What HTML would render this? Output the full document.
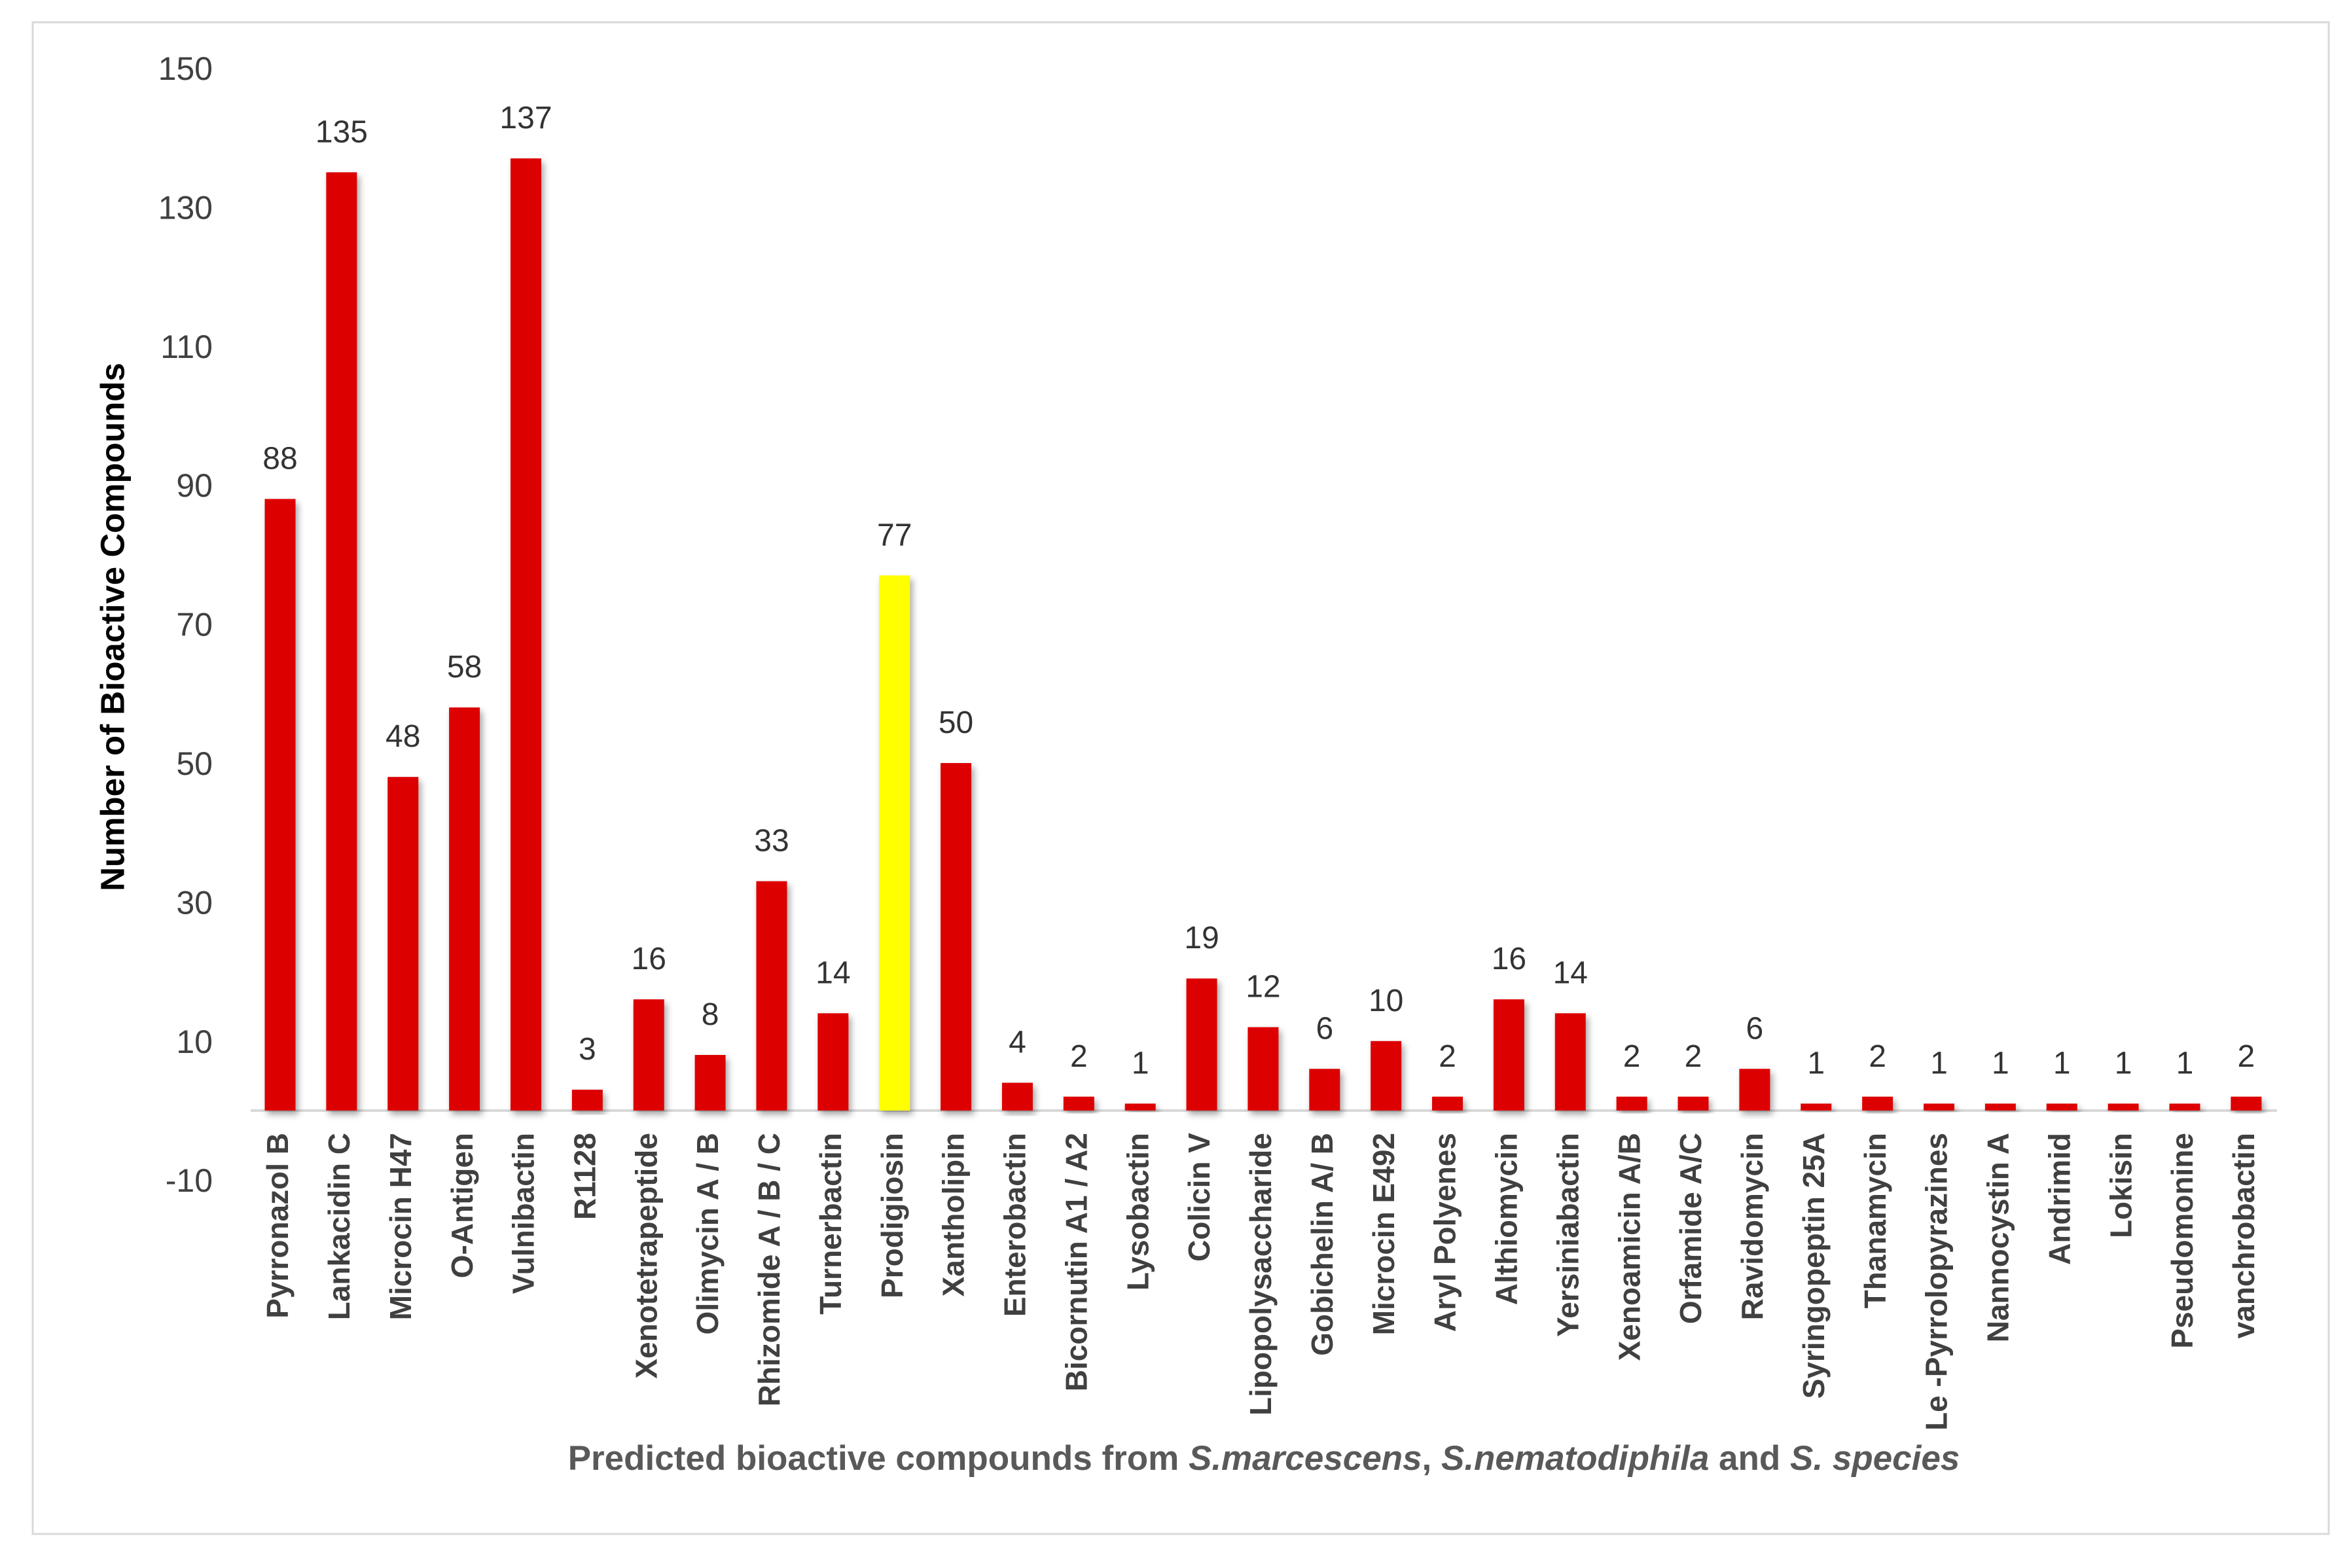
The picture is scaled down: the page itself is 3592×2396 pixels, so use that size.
<!DOCTYPE html>
<html><head><meta charset="utf-8"><style>
html,body{margin:0;padding:0;background:#fff;}
svg{display:block;}
text{font-family:"Liberation Sans",sans-serif;}
</style></head><body>
<svg id="chart" width="3592" height="2396" viewBox="0 0 3592 2396">
<defs><filter id="sh" x="-30%" y="-10%" width="160%" height="130%"><feDropShadow dx="4" dy="6" stdDeviation="5" flood-color="#000" flood-opacity="0.35"/></filter></defs>
<rect x="50" y="34" width="3508" height="2310" fill="#fff" stroke="#d9d9d9" stroke-width="3"/>
<g id="yticks"></g><g id="bars"></g><g id="xlabels"></g>
<text x="176" y="958" transform="rotate(-90 176 958)" text-anchor="middle" font-size="51" font-weight="bold" fill="#000" dominant-baseline="middle">Number of Bioactive Compounds</text>
<text x="1931" y="2246" text-anchor="middle" font-size="53" font-weight="bold" fill="#595959">Predicted bioactive compounds from <tspan font-style="italic">S.marcescens</tspan>, <tspan font-style="italic">S.nematodiphila</tspan> and <tspan font-style="italic">S. species</tspan></text>
</svg>
<script>
const categories=["Pyrronazol B","Lankacidin C","Microcin H47","O-Antigen","Vulnibactin","R1128","Xenotetrapeptide","Olimycin A / B","Rhizomide A / B / C","Turnerbactin","Prodigiosin","Xantholipin","Enterobactin","Bicornutin A1 / A2","Lysobactin","Colicin V","Lipopolysaccharide","Gobichelin A/ B","Microcin E492","Aryl Polyenes","Althiomycin","Yersiniabactin","Xenoamicin A/B","Orfamide A/C","Ravidomycin","Syringopeptin 25A","Thanamycin","Le -Pyrrolopyrazines","Nannocystin A","Andrimid","Lokisin","Pseudomonine","vanchrobactin"];
const values=[88,135,48,58,137,3,16,8,33,14,77,50,4,2,1,19,12,6,10,2,16,14,2,2,6,1,2,1,1,1,1,1,2];
const highlighted=["Prodigiosin"];
const yTicks=[150,130,110,90,70,50,30,10,-10];
const NS="http://www.w3.org/2000/svg";
const y0=1697, unit=10.62, x0=428, step=93.87, bw=47;
function yScale(v){return y0-v*unit;}
function xScale(i){return x0+i*step;}
function mk(tag,attrs,parent){const e=document.createElementNS(NS,tag);for(const k in attrs)e.setAttribute(k,attrs[k]);parent.appendChild(e);return e;}
const yt=document.getElementById('yticks');
yTicks.forEach(t=>{const e=mk('text',{x:325,y:yScale(t)+18,'text-anchor':'end','font-size':50,fill:'#404040'},yt);e.textContent=t;

});
const bars=document.getElementById('bars');
const axis=mk('line',{x1:383,x2:3479,y1:y0,y2:y0,stroke:'#d9d9d9','stroke-width':4},bars);


const xl=document.getElementById('xlabels');
categories.forEach((c,i)=>{const v=values[i];const cx=xScale(i);
const r=mk('rect',{x:cx-bw/2,y:yScale(v),width:bw,height:y0-yScale(v),fill:highlighted.includes(c)?'#ffff00':'#dd0000',filter:'url(#sh)'},bars);


const t=mk('text',{x:cx,y:yScale(v)-46,'text-anchor':'middle','font-size':48,fill:'#333'},bars);t.textContent=v;


const l=mk('text',{x:cx,y:1731,transform:`rotate(-90 ${cx} 1731)`,'text-anchor':'end','dominant-baseline':'middle','font-size':46,'font-weight':'bold',fill:'#404040'},xl);l.textContent=c;

});
</script>
</body></html>
